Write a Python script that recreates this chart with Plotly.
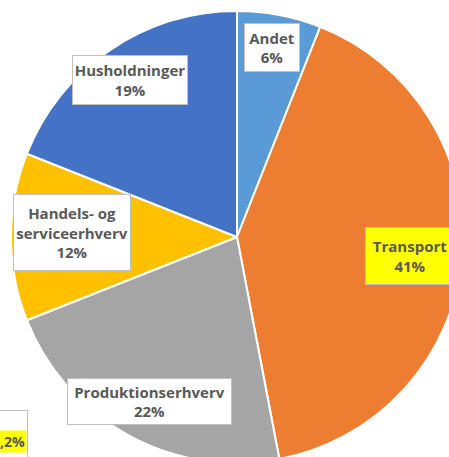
import plotly.graph_objects as go

# Data
categories = ["Andet", "Transport", "Produktionserhverv", "Handels- og<br>serviceerhverv", "Husholdninger"]
values = [6, 41, 22, 12, 19]
colors = ["#5B9BD5", "#ED7D31", "#A5A5A5", "#FFC000", "#4472C4"]
label_bg = ["white", "#FFFF00", "white", "white", "white"]
partial_label = "0,2%"

W, H = 480, 480
# pie placement (pixels)
cx, cy, r = 237, 237, 226

fig = go.Figure(go.Pie(
    labels=categories, values=values, sort=False, direction="clockwise", rotation=0,
    marker=dict(colors=colors, line=dict(color="white", width=2)),
    textinfo="none", hoverinfo="label+percent", showlegend=False,
    domain=dict(x=[(cx - r) / W, (cx + r) / W], y=[1 - (cy + r) / H, 1 - (cy - r) / H]),
))

# label boxes: center x, center y, width, height (pixels)
label_box = [(272, 48, 56, 49), (410, 256, 90, 58), (149, 401, 165, 47), (72, 232, 118, 77), (130, 80, 116, 50)]
font = dict(family="Open Sans", size=15, color="#595959")
for cat, val, bg, (px, py, bw, bh) in zip(categories, values, label_bg, label_box):
    fig.add_annotation(
        x=px / W, y=1 - py / H, xref="paper", yref="paper", xanchor="center", yanchor="middle",
        text=f"<b>{cat}<br>{val}%</b>", showarrow=False, font=font,
        width=bw - 2, height=bh - 2,
        bgcolor=bg, bordercolor="#BFBFBF", borderwidth=1, borderpad=0, align="center",
    )

# partially visible label at bottom-left (cut off by the image edge)
fig.add_annotation(
    x=28 / W, y=1 - 410 / H, xref="paper", yref="paper", xanchor="right", yanchor="top",
    text=" ", showarrow=False, width=60, height=70,
    bgcolor="white", bordercolor="#BFBFBF", borderwidth=1, borderpad=0,
)
fig.add_annotation(
    x=27 / W, y=1 - 441 / H, xref="paper", yref="paper", xanchor="right", yanchor="middle",
    text=f"<b>{partial_label}</b>", showarrow=False, font=dict(family="Open Sans", size=14, color="#595959"),
    bgcolor="#FFFF00", borderpad=1,
)

fig.update_layout(width=W, height=H, margin=dict(l=0, r=0, t=0, b=0),
                  paper_bgcolor="white", plot_bgcolor="white")

fig.write_html("out.html", config={"displayModeBar": False},
               post_script="document.body.style.margin='0';document.body.style.overflow='hidden';")
